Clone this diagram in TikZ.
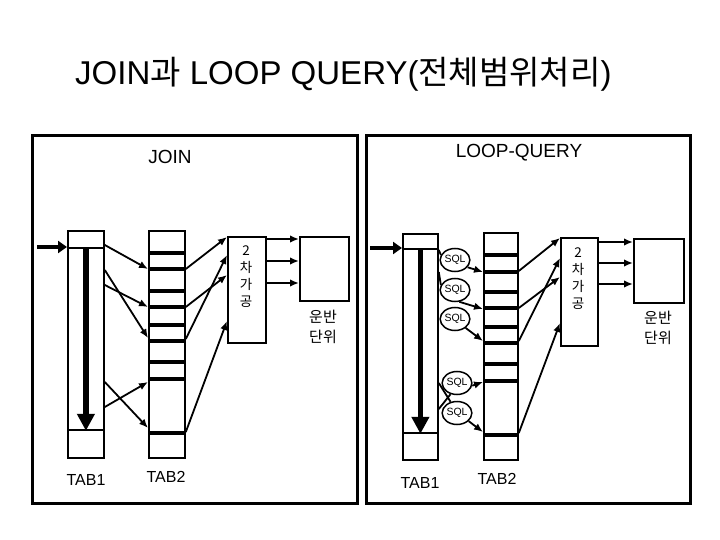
\documentclass[tikz,border=0pt]{standalone}
\usepackage{fontspec}
\setmainfont{Liberation Sans}
\newfontfamily\kr{Noto Sans CJK KR}
\usetikzlibrary{arrows.meta,shapes.geometric}
\begin{document}
\begin{tikzpicture}[x=1pt,y=-1pt,
  frame/.style={draw, line width=2.8pt, inner sep=0, anchor=north west},
  box/.style={draw, line width=1.8pt, inner sep=0, anchor=north west},
  bar/.style={line width=4.5pt},
  arr/.style={line width=1.8pt, -{Latex[length=9pt,width=7.5pt]}},
  ln/.style={line width=1.8pt},
  sql/.style={draw, ellipse, line width=1.5pt, minimum width=27pt, minimum height=23pt, inner sep=0, font=\fontsize{10.5}{10.5}\selectfont},
  lbl/.style={font=\fontsize{16}{16}\selectfont},
  vtxt/.style={align=center, font=\kr\fontsize{13.5}{17}\selectfont},
  unit/.style={align=center, font=\kr\fontsize{15}{20}\selectfont},
  down/.style={line width=5.5pt, -{Triangle[length=17pt,width=17pt]}},
  inarr/.style={line width=4pt, -{Triangle[length=9pt,width=12pt]}}]
\useasboundingbox (0,0) rectangle (720,540);

% title
\node[anchor=base west, font=\fontsize{33}{33}\selectfont, inner sep=0] (title) at (75,85) {JOIN{\kr 과} LOOP QUERY({\kr 전체범위처리})};

% frames
\node[frame, minimum width=325pt, minimum height=368pt] (fj) at (31,134) {};
\node[frame, minimum width=324pt, minimum height=368pt] (fl) at (365,134) {};
\node[font=\fontsize{19}{19}\selectfont] (hj) at (170,157) {JOIN};
\node[font=\fontsize{19}{19}\selectfont] (hl) at (519,153) {LOOP-QUERY};

% ===== JOIN =====
\node[box, minimum width=36pt, minimum height=227pt] (j1) at (67,230) {};
\node[box, minimum width=36pt, minimum height=182pt] (j1in) at (67,247) {};
\node[box, minimum width=36pt, minimum height=227pt] (j2) at (148,230) {};
\node[box, minimum width=38pt, minimum height=106pt] (j3) at (227,236) {};
\node[vtxt] (j3t) at (246,277) {2\\차\\가\\공};
\node[box, minimum width=49pt, minimum height=64pt] (j4) at (299,236) {};
\node[unit] (j4t) at (323,327) {운반\\단위};
\node[lbl] (j1l) at (86,480) {TAB1};
\node[lbl] (j2l) at (166,477) {TAB2};
\foreach \y in {253,269,291,307,325,341,362,379,433}
  \draw[bar] (j2.west |- 0,\y) -- (j2.east |- 0,\y);
\coordinate (jin) at (37,247);
\draw[inarr] (jin) -- (j1.west |- j1in.north);
\draw[down] (j1in.north) -- (j1in.south);
% TAB1 -> TAB2
\draw[arr] (j1.east |- 0,245) -- (j2.west |- 0,269);
\draw[arr] (j1.east |- 0,270) -- (j2.west |- 0,338);
\draw[arr] (j1.east |- 0,285) -- (j2.west |- 0,307);
\draw[arr] (j1.east |- 0,382) -- (j2.west |- 0,428);
\draw[arr] (j1.east |- 0,407) -- (j2.west |- 0,382);
% TAB2 -> 2차가공
\draw[arr] (j2.east |- 0,269) -- (j3.west |- 0,237);
\draw[arr] (j2.east |- 0,307) -- (j3.west |- 0,275);
\draw[arr] (j2.east |- 0,339) -- (j3.west |- 0,255);
\draw[arr] (j2.east |- 0,432) -- (j3.west |- 0,321);
% 2차가공 -> 운반
\foreach \y in {239,261,283}
  \draw[arr] (j3.east |- 0,\y) -- (j4.west |- 0,\y);

% ===== LOOP-QUERY =====
\node[box, minimum width=35pt, minimum height=226pt] (l1) at (402,233) {};
\node[box, minimum width=35pt, minimum height=184pt] (l1in) at (402,248) {};
\node[box, minimum width=34pt, minimum height=227pt] (l2) at (483,232) {};
\node[box, minimum width=37pt, minimum height=108pt] (l3) at (560,237) {};
\node[vtxt] (l3t) at (578,279) {2\\차\\가\\공};
\node[box, minimum width=50pt, minimum height=64pt] (l4) at (633,238) {};
\node[unit] (l4t) at (658,328) {운반\\단위};
\node[lbl] (l1l) at (420,483) {TAB1};
\node[lbl] (l2l) at (497,479) {TAB2};
\foreach \y in {255,272,292,308,327,343,364,381,435}
  \draw[bar] (l2.west |- 0,\y) -- (l2.east |- 0,\y);
\coordinate (lin) at (370,248);
\draw[inarr] (lin) -- (l1.west |- l1in.north);
\draw[down] (l1in.north) -- (l1in.south);
% SQL ellipses
\node[sql] (s1) at (455,260) {SQL};
\node[sql] (s2) at (455,290) {SQL};
\node[sql] (s3) at (455,319) {SQL};
\node[sql] (s4) at (457,383) {SQL};
\node[sql] (s5) at (457,413) {SQL};
% TAB1 -> SQL -> TAB2
\draw[ln] (l1.east |- 0,250) -- (s1.160);
\draw[arr] (s1.-30) -- (l2.west |- 0,272);
\draw[ln] (l1.east |- 0,272) -- (s2.160);
\draw[arr] (s2.-70) -- (l2.west |- 0,309);
\draw[arr] (s3.-40) -- (l2.west |- 0,341);
\draw[ln] (l1.east |- 0,383) -- (s5.120);
\draw[ln] (l1.east |- 0,409) -- (s4.-120);
\draw[arr] (s4.-10) -- (l2.west |- 0,382);
\draw[arr] (s5.-35) -- (l2.west |- 0,432);
% TAB2 -> 2차가공
\draw[arr] (l2.east |- 0,271) -- (l3.west |- 0,238);
\draw[arr] (l2.east |- 0,308) -- (l3.west |- 0,277);
\draw[arr] (l2.east |- 0,341) -- (l3.west |- 0,258);
\draw[arr] (l2.east |- 0,433) -- (l3.west |- 0,323);
% 2차가공 -> 운반
\foreach \y in {242,263,284}
  \draw[arr] (l3.east |- 0,\y) -- (l4.west |- 0,\y);
\end{tikzpicture}
\end{document}
